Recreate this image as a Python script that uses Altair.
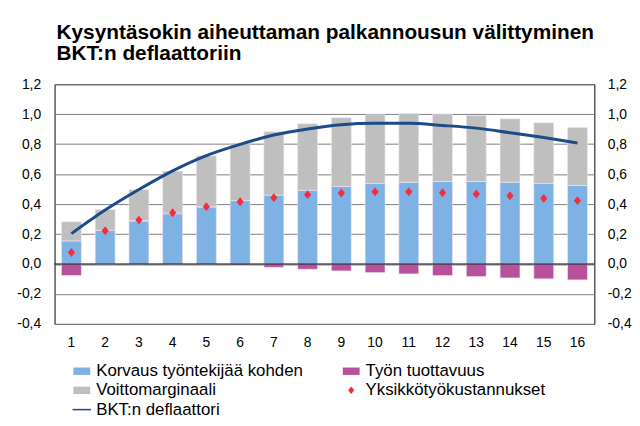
import altair as alt
import pandas as pd

# ---- data ----
periods = list(range(1, 17))
korvaus = [0.154, 0.225, 0.286, 0.335, 0.381, 0.423, 0.460, 0.493, 0.518, 0.537, 0.546, 0.551, 0.551, 0.546, 0.537, 0.524]
tuottavuus = [-0.077, -0.003, 0.005, 0.006, 0.002, -0.009, -0.022, -0.035, -0.046, -0.057, -0.066, -0.077, -0.084, -0.093, -0.099, -0.106]
voitto = [0.128, 0.138, 0.205, 0.279, 0.339, 0.385, 0.423, 0.443, 0.458, 0.459, 0.459, 0.451, 0.440, 0.423, 0.406, 0.388]
yksikko = [0.077, 0.222, 0.293, 0.342, 0.383, 0.416, 0.443, 0.463, 0.474, 0.482, 0.482, 0.476, 0.467, 0.456, 0.438, 0.423]
deflaattori = [0.203, 0.360, 0.497, 0.622, 0.724, 0.799, 0.861, 0.901, 0.930, 0.939, 0.939, 0.925, 0.907, 0.876, 0.844, 0.808]

y_ticks = [-0.4, -0.2, 0.0, 0.2, 0.4, 0.6, 0.8, 1.0, 1.2]

S_K = "Korvaus työntekijää kohden"
S_T = "Työn tuottavuus"
S_V = "Voittomarginaali"
S_Y = "Yksikkötyökustannukset"
S_B = "BKT:n deflaattori"
# legend fills column by column (3 rows): col 1 = K, V, B ; col 2 = T, Y
series_order = [S_K, S_V, S_B, S_T, S_Y]
series_colors = ["#7EB2E4", "#BFBFBF", "#1A4C8A", "#B8519C", "#F42C3C"]

title_lines = ["Kysyntäsokin aiheuttaman palkannousun välittyminen", "BKT:n deflaattoriin"]

# ---- tables ----
bar_rows = []
for name, vals, o in [(S_K, korvaus, 0), (S_T, tuottavuus, 1), (S_V, voitto, 2)]:
    for p, v in zip(periods, vals):
        bar_rows.append({"period": p, "series": name, "value": v, "ord": o})
bars_df = pd.DataFrame(bar_rows)
points_df = pd.DataFrame({"period": periods, "series": S_Y, "value": yksikko})
line_df = pd.DataFrame({"period": periods, "series": S_B, "value": deflaattori})
zero_df = pd.DataFrame({"value": [0.0]})

FONT = "Liberation Sans"
label_expr = "(datum.value < -0.001 ? '-' : '') + replace(format(abs(datum.value), '.1f'), '.', ',')"

x_enc = alt.X("period:O", title=None,
              scale=alt.Scale(paddingInner=0.41, paddingOuter=0.205),
              axis=alt.Axis(labelAngle=0, ticks=False, domain=False, labelPadding=12,
                            labelFontSize=14, labelFont=FONT, labelColor="#000000"))
y_scale = alt.Scale(domain=[-0.4, 1.2], nice=False, zero=False)

RECT = "M-1,-0.44L1,-0.44L1,0.44L-1,0.44Z"
DIAMOND = "M0,-0.45L0.36,0L0,0.45L-0.36,0Z"
STROKE = "M-1.1,-0.09L1.1,-0.09L1.1,0.09L-1.1,0.09Z"
color_scale = alt.Scale(domain=series_order, range=series_colors)
shape_scale = alt.Scale(domain=series_order, range=[RECT, RECT, STROKE, RECT, DIAMOND])

legend_kw = dict(title=None, orient="none", legendX=19, legendY=281,
                 columns=2, columnPadding=40, rowPadding=1.5,
                 symbolSize=289, symbolOpacity=1, symbolStrokeWidth=0,
                 labelFontSize=17, labelFont=FONT, labelColor="#000000",
                 labelOffset=6, labelLimit=400)

bars = alt.Chart(bars_df).mark_bar(stroke="#f4e6f0", strokeWidth=0.6).encode(
    x=x_enc,
    y=alt.Y("value:Q", title=None, stack="zero", scale=y_scale,
            axis=alt.Axis(values=y_ticks, labelExpr=label_expr, grid=True,
                          gridColor="#7f7f7f", gridWidth=1, domain=False, ticks=False,
                          labelPadding=14, labelFontSize=14, labelFont=FONT,
                          labelColor="#000000", orient="left")),
    color=alt.Color("series:N", scale=color_scale, legend=alt.Legend(**legend_kw)),
    order=alt.Order("ord:Q"),
)

zero = alt.Chart(zero_df).mark_rule(color="#000000", strokeWidth=1).encode(
    y=alt.Y("value:Q", scale=y_scale, axis=None),
)

points = alt.Chart(points_df).mark_point(filled=True, size=400, opacity=1).encode(
    x=alt.X("period:O"),
    y=alt.Y("value:Q", scale=y_scale, axis=None),
    color=alt.Color("series:N", scale=color_scale, legend=alt.Legend(**legend_kw)),
    shape=alt.Shape("series:N", scale=shape_scale, legend=alt.Legend(**legend_kw)),
)

line = alt.Chart(line_df).mark_line(strokeWidth=3, interpolate="monotone").encode(
    x=alt.X("period:O"),
    y=alt.Y("value:Q", title=None, scale=y_scale,
            axis=alt.Axis(values=y_ticks, labelExpr=label_expr, grid=False, domain=False,
                          ticks=False, labelPadding=13, labelFontSize=14, labelFont=FONT,
                          labelColor="#000000", orient="right")),
    color=alt.Color("series:N", scale=color_scale, legend=alt.Legend(**legend_kw)),
)

chart = alt.layer(bars, zero, points, line).resolve_scale(y="independent").properties(
    width=545,
    height=242,
    autosize=alt.AutoSizeParams(type="none"),
    padding={"left": 47, "top": 75, "right": 38, "bottom": 93},
    background="#ffffff",
    title=alt.TitleParams(text=title_lines, anchor="start", frame="group", dx=2, offset=13,
                          fontSize=21, font=FONT, fontWeight="bold", color="#000000",
                          lineHeight=22),
).configure_view(stroke="#000000", strokeWidth=1)

chart.save("out.html", embed_options={"renderer": "svg", "actions": False})
